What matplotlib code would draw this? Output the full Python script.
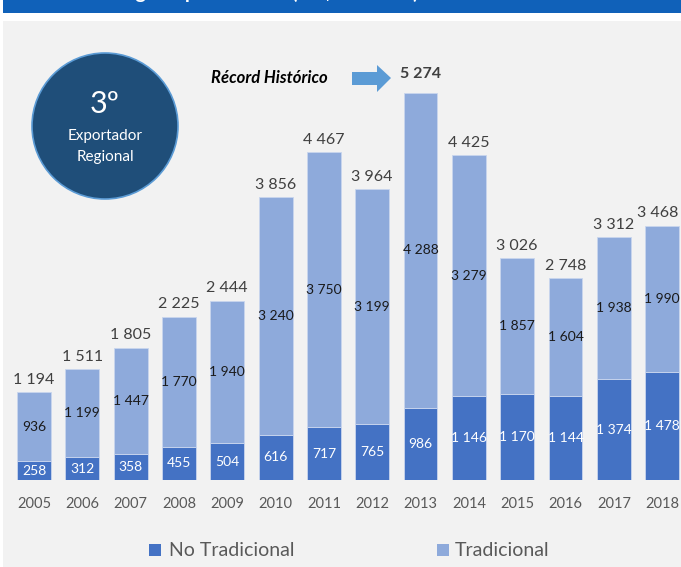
import numpy as np
import matplotlib
matplotlib.use('Agg')
from matplotlib import pyplot as plt
import matplotlib.patches as mpatches

years = ['2005', '2006', '2007', '2008', '2009', '2010', '2011', '2012',
         '2013', '2014', '2015', '2016', '2017', '2018']
no_trad = [258, 312, 358, 455, 504, 616, 717, 765, 986, 1146, 1170, 1144, 1374, 1478]
trad = [936, 1199, 1447, 1770, 1940, 3240, 3750, 3199, 4288, 3279, 1857, 1604, 1938, 1990]
totals = [1194, 1511, 1805, 2225, 2444, 3856, 4467, 3964, 5274, 4425, 3026, 2748, 3312, 3468]
record_idx = 8

plt.rcParams['font.family'] = ['Lato', 'DejaVu Sans']

W, H = 681, 567
fig = plt.figure(figsize=(W / 100., H / 100.), dpi=100)
fig.patch.set_facecolor('white')


def fx(px):
    return px / float(W)


def fy(py):
    # py measured from top
    return 1 - py / float(H)


# header banner and grey panel (behind the axes)
fig.add_artist(mpatches.Rectangle((fx(3), fy(13)), fx(678), 13. / H, zorder=-2,
                                  transform=fig.transFigure, color='#1061b9', lw=0))
fig.add_artist(mpatches.Rectangle((fx(3), 0), fx(678), fy(21), zorder=-2,
                                  transform=fig.transFigure, color='#f2f2f2', lw=0))
fig.text(fx(270), fy(-1.5), 'Agroexportaciones (US$ Millones)', color='white',
         fontsize=14, fontweight='bold', ha='center', va='baseline')

ax = fig.add_axes([fx(9.85), fy(480), 1 - fx(9.85), 440. / H])
ax.set_facecolor('none')
x = np.arange(len(years))
ax.bar(x, no_trad, width=0.7, color='#4472c4', edgecolor='#c9d6ee', lw=0.6,
       label='No Tradicional')
ax.bar(x, trad, width=0.7, bottom=no_trad, color='#8eaadb', edgecolor='#c9d6ee',
       lw=0.6, label='Tradicional')
ax.set_xlim(-0.5, 13.39)
ax.set_ylim(0, 6000)
ax.axis('off')


def fmt(v):
    return '{:,}'.format(v).replace(',', ' ')


for i in range(len(years)):
    ax.text(x[i], no_trad[i] / 2., fmt(no_trad[i]), color='white', fontsize=10,
            ha='center', va='center')
    ax.text(x[i], no_trad[i] + trad[i] / 2., fmt(trad[i]), color='#1a1a1a',
            fontsize=10, ha='center', va='center')
    dx = -3 if i == len(years) - 1 else 0
    if i == record_idx:
        ax.annotate(fmt(totals[i]), (x[i], totals[i]), xytext=(dx, 9),
                    textcoords='offset points', ha='center', va='bottom',
                    fontsize=11.5, fontweight='bold', color='#404040')
    else:
        ax.annotate(fmt(totals[i]), (x[i], totals[i]), xytext=(dx, 4),
                    textcoords='offset points', ha='center', va='bottom',
                    fontsize=11.5, color='#404040')
    ax.annotate(years[i], (x[i], 0), xytext=(0, -12), textcoords='offset points',
                ha='center', va='top', fontsize=10.5, color='#595959')

# record annotation
fig.text(fx(269), fy(78), 'Récord Histórico', fontsize=12, fontweight='bold',
         fontstyle='italic', ha='center', va='center', color='black')
arrow = [(352, 72), (377, 72), (377, 65), (391, 78), (377, 92), (377, 85), (352, 85)]
fig.add_artist(mpatches.Polygon([(fx(a), fy(b)) for a, b in arrow], closed=True,
                                transform=fig.transFigure, color='#5b9bd5', lw=0))

# badge circle
circ = mpatches.Ellipse((fx(105), fy(126)), 146. / W, 146. / H, transform=fig.transFigure,
                        facecolor='#1f4e79', edgecolor='#5b9bd5', lw=1.2)
fig.add_artist(circ)
fig.text(fx(105), fy(104), '3º', color='white', fontsize=22, ha='center', va='center')
fig.text(fx(105), fy(136), 'Exportador', color='white', fontsize=11, ha='center',
         va='center')
fig.text(fx(105), fy(157), 'Regional', color='white', fontsize=11, ha='center',
         va='center')

# legend
fig.add_artist(mpatches.Rectangle((fx(149), fy(556)), 12. / W, 12. / H,
                                  transform=fig.transFigure, color='#4472c4', lw=0))
fig.text(fx(169), fy(550), 'No Tradicional', color='#595959', fontsize=14, va='center')
fig.add_artist(mpatches.Rectangle((fx(437), fy(556)), 12. / W, 12. / H,
                                  transform=fig.transFigure, color='#8eaadb', lw=0))
fig.text(fx(455), fy(550), 'Tradicional', color='#595959', fontsize=14, va='center')

fig.savefig('out.png', dpi=100, facecolor=fig.get_facecolor())
